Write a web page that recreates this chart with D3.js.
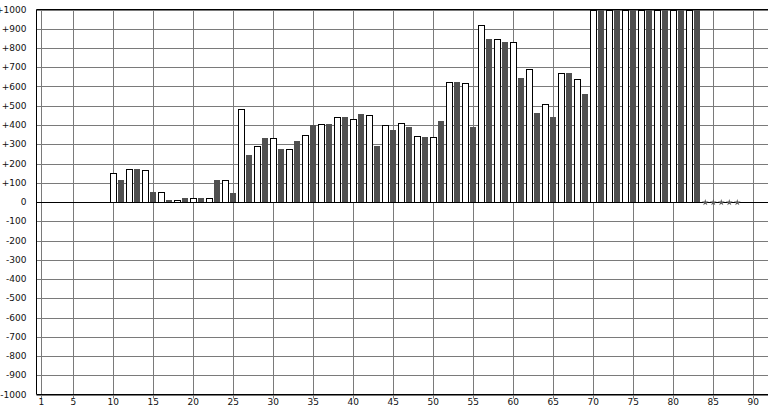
<!DOCTYPE html>
<html><head><meta charset="utf-8">
<script src="https://cdn.jsdelivr.net/npm/d3@7"></script>
<style>html,body{margin:0;padding:0;background:#fff;}svg{display:block;}</style>
</head><body>
<svg id="c" width="768" height="406"></svg>
<script>
// White series (even positions) and dark series (odd positions)
const whitePos = [10,12,14,16,18,20,22,24,26,28,30,32,34,36,38,40,42,44,46,48,50,52,54,56,58,60,62,64,66,68,70,72,74,76,78,80,82];
const whiteVal = [151,172,167,50,9,21,20,115,483,292,332,274,349,406,441,431,453,399,410,342,337,625,620,917,847,832,693,510,672,641,1000,1000,1000,1000,1000,1000,1000];
const darkPos = [11,13,15,17,19,21,23,25,27,29,31,33,35,37,39,41,43,45,47,49,51,53,55,57,59,61,63,65,67,69,71,73,75,77,79,81,83];
const darkVal = [115,172,52,10,21,21,115,47,245,333,276,318,401,406,443,458,292,375,391,339,422,625,391,849,833,646,464,443,672,562,1000,1000,1000,1000,1000,1000,1000];
const markerPos = [84,85,86,87,88];
const markerVal = [0,0,0,0,0];
const xTicks = [1,5,10,15,20,25,30,35,40,45,50,55,60,65,70,75,80,85,90];
const yTicks = [1000,900,800,700,600,500,400,300,200,100,0,-100,-200,-300,-400,-500,-600,-700,-800,-900,-1000];

(function(){
const svg = d3.select("#c");
const W = 768;
const pLeft = 36.5, pTop = 9.5, pBottom = 394.5;
const x = d3.scaleLinear().domain([0, 92]).range([33.3, 33.3 + 8*92]);
const y = d3.scaleLinear().domain([-1000, 1000]).range([pBottom, pTop]);
const grid = "#7a7a7a";

svg.append("defs").append("clipPath").attr("id","pc")
  .append("rect").attr("x", pLeft).attr("y", pTop).attr("width", W-pLeft).attr("height", pBottom-pTop);

// horizontal grid
svg.append("g").selectAll("line").data(yTicks).join("line")
  .attr("x1", pLeft).attr("x2", W)
  .attr("y1", d => Math.round(y(d)) + 0.5).attr("y2", d => Math.round(y(d)) + 0.5)
  .attr("stroke", d => d === 0 ? "none" : grid).attr("stroke-width", 1);
// vertical grid with ticks below axis
svg.append("g").selectAll("line").data(xTicks).join("line")
  .attr("x1", d => Math.floor(x(d)) + 0.5).attr("x2", d => Math.floor(x(d)) + 0.5)
  .attr("y1", pTop).attr("y2", pBottom + 4)
  .attr("stroke", grid).attr("stroke-width", 1);

const plot = svg.append("g").attr("clip-path", "url(#pc)");
const y0 = Math.round(y(0));
// white bars
plot.selectAll("rect.w").data(whitePos.map((p,i)=>({p, v: whiteVal[i]}))).join("rect")
  .attr("class","w")
  .attr("x", d => Math.floor(x(d.p)) - 3 + 0.5)
  .attr("y", d => Math.round(y(d.v)) + 0.5)
  .attr("width", 6)
  .attr("height", d => Math.max(0, y0 - Math.round(y(d.v))))
  .attr("fill", "#fff").attr("stroke", "#000").attr("stroke-width", 1);
// dark bars
plot.selectAll("rect.d").data(darkPos.map((p,i)=>({p, v: darkVal[i]}))).join("rect")
  .attr("class","d")
  .attr("x", d => Math.floor(x(d.p)) - 3)
  .attr("y", d => Math.round(y(d.v)))
  .attr("width", 6)
  .attr("height", d => Math.max(0, y0 - Math.round(y(d.v)) + 1))
  .attr("fill", "#505050");

// zero line
svg.append("line").attr("x1", pLeft).attr("x2", W).attr("y1", y0 + 0.5).attr("y2", y0 + 0.5)
  .attr("stroke", "#000").attr("stroke-width", 1);

// markers
svg.append("g").selectAll("path").data(markerPos.map((p,i)=>({p, v: markerVal[i]}))).join("path")
  .attr("transform", d => `translate(${x(d.p)},${y(d.v)+0.5})`)
  .attr("d", d3.symbol().type(d3.symbolStar).size(14))
  .attr("fill", "#5a5a5a");

// axes borders
svg.append("line").attr("x1", pLeft).attr("x2", pLeft).attr("y1", pTop).attr("y2", pBottom).attr("stroke","#000");
svg.append("line").attr("x1", pLeft).attr("x2", W).attr("y1", pTop).attr("y2", pTop).attr("stroke","#000");
svg.append("line").attr("x1", pLeft).attr("x2", W).attr("y1", pBottom).attr("y2", pBottom).attr("stroke","#000");

// y labels
svg.append("g").selectAll("text").data(yTicks).join("text")
  .attr("x", 26.5).attr("y", d => y(d) + 3)
  .attr("text-anchor", "end")
  .attr("font-family", "DejaVu Sans, Verdana, sans-serif").attr("font-size", "9px").attr("fill", "#111")
  .text(d => d > 0 ? "+" + d : String(d));
// x labels
svg.append("g").selectAll("text").data(xTicks).join("text")
  .attr("x", d => x(d)).attr("y", 405)
  .attr("text-anchor", "middle")
  .attr("font-family", "DejaVu Sans, Verdana, sans-serif").attr("font-size", "9px").attr("fill", "#111")
  .text(d => d);
})();
</script>
</body></html>
